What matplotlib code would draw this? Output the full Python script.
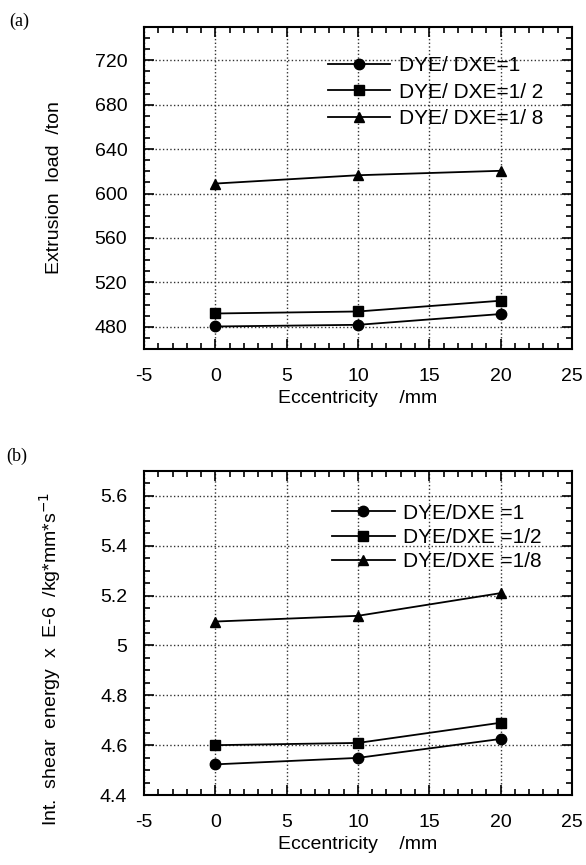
import numpy as np
import matplotlib
matplotlib.use("Agg")
import matplotlib.pyplot as plt
from matplotlib.ticker import MultipleLocator, FormatStrFormatter

plt.rcParams['font.family'] = ['Liberation Sans', 'DejaVu Sans']
plt.rcParams['axes.unicode_minus'] = False

# eccentricity (mm)
eccentricity = [0, 10, 20]

# (a) extrusion load (ton)
load_ratio_1 = [480.3, 481.8, 491.5]
load_ratio_1_2 = [492.0, 493.8, 503.5]
load_ratio_1_8 = [609.0, 616.5, 620.5]
labels_a = ["DYE/ DXE=1", "DYE/ DXE=1/ 2", "DYE/ DXE=1/ 8"]

# (b) internal shear energy (x E-6)
shear_ratio_1 = [4.523, 4.549, 4.625]
shear_ratio_1_2 = [4.600, 4.609, 4.690]
shear_ratio_1_8 = [5.096, 5.119, 5.210]
labels_b = ["DYE/DXE =1", "DYE/DXE =1/2", "DYE/DXE =1/8"]

markers = ['o', 's', '^']


def style_axes(ax, ylim, ymajor, yminor, yfmt):
    ax.set_xlim(-5, 25)
    ax.set_ylim(*ylim)
    ax.xaxis.set_major_locator(MultipleLocator(5))
    ax.xaxis.set_minor_locator(MultipleLocator(1))
    ax.yaxis.set_major_locator(MultipleLocator(ymajor))
    ax.yaxis.set_minor_locator(MultipleLocator(yminor))
    ax.yaxis.set_major_formatter(FormatStrFormatter(yfmt))
    ax.tick_params(which='both', direction='in', top=True, right=True,
                   width=1.2, labelsize=14)
    ax.tick_params(which='major', length=7)
    ax.tick_params(which='minor', length=4.5)
    ax.tick_params(axis='x', pad=14)
    ax.tick_params(axis='y', pad=12)
    ax.grid(True, which='major', linestyle=':', color='#333333', linewidth=1.0)
    for s in ax.spines.values():
        s.set_linewidth(1.5)
    ax.set_xlabel("Eccentricity    /mm", fontsize=14, labelpad=3)


fig = plt.figure(figsize=(5.86, 8.65), dpi=100)

# ---- panel (a) ----
ax1 = fig.add_axes([0.2457, 0.5965, 0.7303, 0.3723])
for y, m, lab in zip([load_ratio_1, load_ratio_1_2, load_ratio_1_8], markers, labels_a):
    ax1.plot(eccentricity, y, color='black', marker=m, markersize=7.5, linewidth=1.3, label=lab)
style_axes(ax1, (460, 750), 40, 10, '%g')
ax1.set_ylabel("Extrusion  load  /ton", fontsize=14)
ax1.yaxis.set_label_coords(-0.19, 0.5)
ax1.legend(loc='upper left', bbox_to_anchor=(0.41, 0.935), frameon=False, fontsize=15,
           handlelength=3.0, handletextpad=0.4, labelspacing=0.35, borderaxespad=0)
fig.text(0.015, 0.985, "(a)", family='Liberation Serif', fontsize=13, va='top')

# ---- panel (b) ----
ax2 = fig.add_axes([0.2457, 0.0809, 0.7303, 0.3746])
for y, m, lab in zip([shear_ratio_1, shear_ratio_1_2, shear_ratio_1_8], markers, labels_b):
    ax2.plot(eccentricity, y, color='black', marker=m, markersize=7.5, linewidth=1.3, label=lab)
style_axes(ax2, (4.4, 5.7), 0.2, 0.05, '%g')
ax2.set_ylabel("Int.  shear  energy  x  E-6  /kg*mm*s$^{-1}$", fontsize=14)
ax2.yaxis.set_label_coords(-0.19, 0.42)
ax2.legend(loc='upper left', bbox_to_anchor=(0.42, 0.925), frameon=False, fontsize=15,
           handlelength=3.0, handletextpad=0.4, labelspacing=0.25, borderaxespad=0)
fig.text(0.01, 0.483, "(b)", family='Liberation Serif', fontsize=13, va='top')

fig.savefig("out.png", dpi=100)
